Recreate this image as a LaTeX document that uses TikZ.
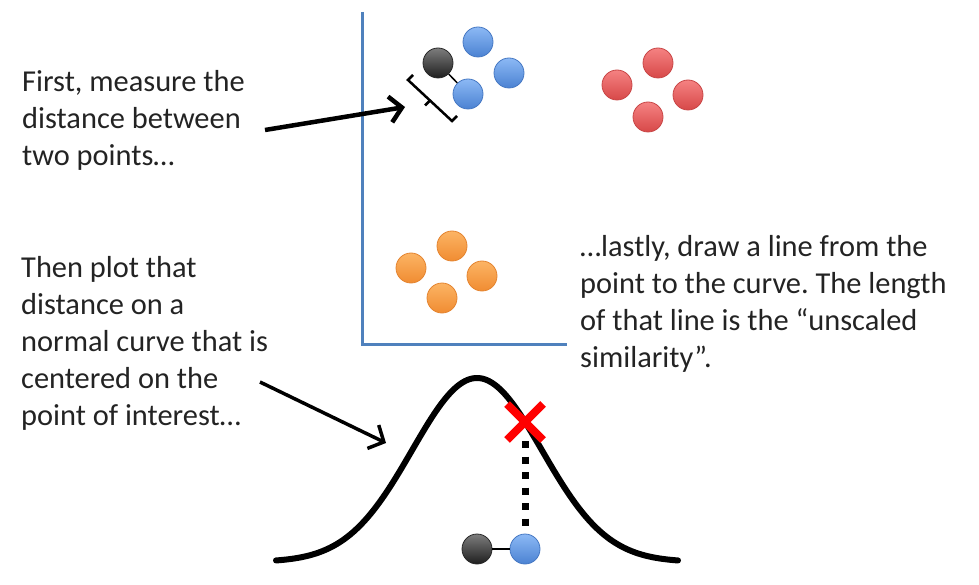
\documentclass[tikz,border=0pt]{standalone}
\usepackage{fontspec}
\setmainfont{Carlito}
\frenchspacing
\usetikzlibrary{arrows.meta,shapes.misc}
\definecolor{txt}{RGB}{35,35,35}
\definecolor{axisblue}{RGB}{79,129,189}
\definecolor{bluetop}{RGB}{140,185,245}
\definecolor{bluebot}{RGB}{75,130,210}
\definecolor{blueedge}{RGB}{70,120,195}
\definecolor{redtop}{RGB}{245,130,130}
\definecolor{redbot}{RGB}{215,72,72}
\definecolor{rededge}{RGB}{200,70,70}
\definecolor{ortop}{RGB}{252,180,100}
\definecolor{orbot}{RGB}{240,140,50}
\definecolor{oredge}{RGB}{228,132,48}
\definecolor{graytop}{RGB}{125,125,125}
\definecolor{graybot}{RGB}{30,30,30}
\definecolor{grayedge}{RGB}{40,40,40}
\tikzset{
  ball/.style={circle, minimum size=30pt, inner sep=0pt, line width=0.8pt, shading=axis},
  blueball/.style={ball, top color=bluetop, bottom color=bluebot, draw=blueedge},
  redball/.style={ball, top color=redtop, bottom color=redbot, draw=rededge},
  orball/.style={ball, top color=ortop, bottom color=orbot, draw=oredge},
  grayball/.style={ball, top color=graytop, bottom color=graybot, draw=grayedge},
  label/.style={anchor=base west, align=left, inner sep=0pt, text=txt,
    font=\fontsize{30.4pt}{37pt}\selectfont},
  bigarrow/.style={-{Straight Barb[length=12pt,width=26pt]}, line width=#1, black},
  link/.style={line width=1.5pt, black},
}
\begin{document}
\begin{tikzpicture}[x=1pt,y=-1pt]
\useasboundingbox (0,0) rectangle (979,585);
% axes
\draw[axisblue, line width=3pt] (362,12) -- (362,344) -- (567,344);
% clusters
\node[grayball] (g1) at (438,63) {};
\node[blueball] (b1) at (478,42) {};
\node[blueball] (b2) at (509,73) {};
\node[blueball] (b3) at (468,94) {};
\draw[link] (g1) -- (b3);
\node[redball] (r1) at (658,63) {};
\node[redball] (r2) at (617,85) {};
\node[redball] (r3) at (688,95) {};
\node[redball] (r4) at (648,117) {};
\node[orball] (o1) at (452,246) {};
\node[orball] (o2) at (411,268) {};
\node[orball] (o3) at (482,276) {};
\node[orball] (o4) at (442,298) {};
% bracket
\draw[black, line width=2.5pt, line join=miter]
  (413,75) -- (408,80) -- (452,121) -- (457,116);
\draw[black, line width=2.5pt] (430,100.5) -- (425,105.5);
% texts (anchored at the baseline of the last line)
\node[label] (t1) at (22,166) {First, measure the\\distance between\\two points…};
\node[label] (t2) at (21,425) {Then plot that\\distance on a\\normal curve that is\\centered on the\\point of interest…};
\node[label] (t3) at (580,367) {…lastly, draw a line from the\\point to the curve. The length\\of that line is the “unscaled\\similarity”.};
% arrows
\coordinate (a1s) at (265,130);
\coordinate (a1e) at (405,107);
\draw[bigarrow=4.5pt] (a1s) -- (a1e);
\coordinate (a2s) at (260,382);
\coordinate (a2e) at (386,443);
\draw[bigarrow=3.5pt] (a2s) -- (a2e);
% normal curve
\draw[black, line width=6pt, line cap=round]
  plot[domain=276:678, samples=120, smooth] (\x, {562-184*exp(-0.5*((\x-477)/65)^2)});
% bottom pair
\node[grayball] (g2) at (477,549) {};
\node[blueball] (b4) at (525,549) {};
\draw[link] (g2) -- (b4);
% dotted line and cross
\node[cross out, draw=red, line width=8pt, minimum size=28pt, inner sep=0pt] (x) at (525,422) {};
\coordinate (dtop) at (525,441);
\coordinate (dbot) at (525,527);
\draw[black, line width=7pt, dash pattern=on 7pt off 8.5pt] (dtop) -- (dbot);
\end{tikzpicture}
\end{document}
